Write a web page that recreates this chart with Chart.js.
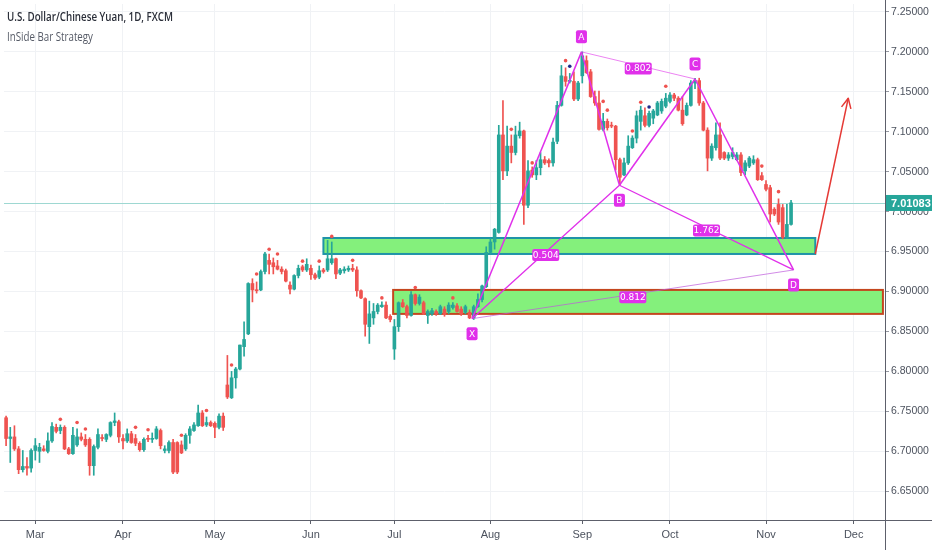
<!DOCTYPE html>
<html><head><meta charset="utf-8">
<script src="https://cdn.jsdelivr.net/npm/chart.js@4.4.1/dist/chart.umd.min.js"></script>
<style>html,body{margin:0;padding:0;background:#fff;overflow:hidden}canvas{display:block}</style>
</head><body>
<canvas id="c" width="932" height="550"></canvas>
<script>
const titleText = 'U.S. Dollar/Chinese Yuan, 1D, FXCM';
const subtitleText = 'InSide Bar Strategy';
const barCount = 211;
const monthLabels = ['Mar','Apr','May','Jun','Jul','Aug','Sep','Oct','Nov','Dec'];
const monthStartIndex = [7,28,50,73,93,116,138,159,182,203];
const yTickValues = [6.65,6.70,6.75,6.80,6.85,6.90,6.95,7.00,7.05,7.10,7.15,7.20,7.25];

const opens = [6.742,6.716,6.718,6.703,6.677,6.681,6.679,6.701,6.700,6.703,6.700,6.713,6.730,6.726,6.730,6.703,6.697,6.708,6.718,6.715,
6.715,6.682,6.705,6.717,6.715,6.720,6.736,6.737,6.716,6.713,6.722,6.716,6.710,6.702,6.716,6.715,6.716,6.726,6.701,6.701,
6.711,6.711,6.708,6.703,6.720,6.726,6.732,6.748,6.733,6.736,6.735,6.730,6.744,6.783,6.767,6.792,6.803,6.831,6.847,6.910,
6.902,6.902,6.925,6.939,6.936,6.932,6.928,6.926,6.908,6.903,6.920,6.931,6.927,6.929,6.921,6.918,6.927,6.927,6.936,6.941,
6.923,6.926,6.927,6.929,6.927,6.901,6.891,6.856,6.867,6.875,6.881,6.883,6.869,6.828,6.856,6.886,6.881,6.870,6.896,6.885,
6.886,6.870,6.872,6.875,6.872,6.878,6.875,6.880,6.882,6.878,6.874,6.874,6.867,6.881,6.890,6.906,6.949,6.962,6.974,7.096,
7.051,7.082,7.074,7.095,7.101,7.008,7.052,7.046,7.055,7.065,7.064,7.061,7.088,7.133,7.169,7.163,7.163,7.141,7.170,7.189,
7.175,7.144,7.136,7.103,7.113,7.108,7.107,7.065,7.046,7.061,7.080,7.092,7.113,7.120,7.108,7.117,7.121,7.126,7.132,7.138,
7.146,7.142,7.127,7.121,7.133,7.161,7.164,7.136,7.102,7.067,7.080,7.096,7.074,7.067,7.069,7.065,7.071,7.051,7.057,7.061,
7.065,7.045,7.034,7.030,7.003,7.009,7.005,6.968,6.984];
const highs = [6.744,6.730,6.732,6.706,6.701,6.692,6.703,6.716,6.710,6.707,6.723,6.736,6.734,6.733,6.732,6.705,6.730,6.728,6.723,6.721,
6.717,6.708,6.728,6.721,6.722,6.737,6.748,6.739,6.721,6.728,6.725,6.721,6.712,6.717,6.720,6.723,6.731,6.728,6.707,6.713,
6.715,6.712,6.713,6.722,6.731,6.736,6.758,6.751,6.743,6.738,6.737,6.747,6.748,6.820,6.800,6.805,6.833,6.862,6.911,6.916,
6.912,6.927,6.949,6.947,6.942,6.939,6.931,6.928,6.912,6.921,6.933,6.933,6.941,6.933,6.923,6.932,6.929,6.964,6.962,6.942,
6.929,6.931,6.932,6.934,6.931,6.902,6.892,6.888,6.885,6.885,6.887,6.887,6.871,6.865,6.887,6.890,6.883,6.900,6.897,6.896,
6.888,6.877,6.879,6.877,6.883,6.881,6.886,6.886,6.885,6.881,6.883,6.877,6.883,6.897,6.908,6.956,6.967,6.979,7.108,7.139,
7.107,7.096,7.107,7.112,7.102,7.064,7.056,7.064,7.074,7.069,7.066,7.092,7.138,7.183,7.180,7.173,7.175,7.163,7.200,7.195,
7.178,7.151,7.151,7.123,7.116,7.112,7.108,7.067,7.067,7.095,7.095,7.126,7.132,7.130,7.126,7.128,7.138,7.141,7.148,7.149,
7.148,7.144,7.144,7.136,7.164,7.167,7.167,7.138,7.105,7.085,7.111,7.111,7.075,7.074,7.080,7.074,7.074,7.064,7.069,7.070,
7.067,7.049,7.039,7.033,7.005,7.016,7.009,7.009,7.014];
const lows = [6.707,6.686,6.701,6.672,6.674,6.670,6.674,6.689,6.686,6.700,6.698,6.711,6.723,6.722,6.702,6.696,6.696,6.706,6.713,6.706,
6.670,6.670,6.703,6.713,6.712,6.718,6.732,6.711,6.703,6.711,6.710,6.707,6.700,6.700,6.712,6.711,6.715,6.703,6.698,6.698,
6.672,6.672,6.697,6.701,6.710,6.725,6.731,6.731,6.731,6.731,6.717,6.728,6.726,6.766,6.766,6.779,6.802,6.819,6.846,6.887,
6.898,6.901,6.922,6.922,6.922,6.927,6.922,6.912,6.897,6.902,6.917,6.925,6.925,6.915,6.915,6.916,6.923,6.925,6.934,6.916,
6.921,6.923,6.925,6.925,6.894,6.891,6.844,6.835,6.859,6.872,6.880,6.866,6.862,6.815,6.850,6.880,6.867,6.869,6.883,6.883,
6.871,6.860,6.870,6.870,6.871,6.869,6.872,6.878,6.874,6.870,6.872,6.866,6.865,6.880,6.887,6.905,6.947,6.953,6.973,7.040,
7.045,7.061,7.071,7.092,6.984,7.005,7.043,7.040,7.046,7.059,7.056,7.057,7.085,7.132,7.157,7.161,7.139,7.139,7.161,7.173,
7.143,7.133,7.102,7.101,7.102,7.105,7.052,7.033,7.045,7.059,7.079,7.086,7.102,7.106,7.106,7.110,7.120,7.123,7.130,7.136,
7.139,7.126,7.108,7.120,7.132,7.154,7.133,7.101,7.051,7.064,7.077,7.065,7.065,7.064,7.066,7.064,7.045,7.046,7.055,7.059,
7.039,7.039,7.026,6.987,6.995,6.984,6.966,6.966,6.983];
const closes = [6.716,6.718,6.703,6.677,6.681,6.679,6.701,6.707,6.705,6.701,6.713,6.731,6.725,6.730,6.703,6.697,6.720,6.718,6.715,6.708,
6.682,6.706,6.721,6.716,6.721,6.736,6.738,6.718,6.713,6.722,6.711,6.710,6.702,6.715,6.715,6.716,6.728,6.707,6.703,6.711,
6.674,6.674,6.698,6.720,6.728,6.733,6.748,6.732,6.736,6.732,6.730,6.744,6.730,6.768,6.792,6.803,6.833,6.840,6.910,6.902,
6.901,6.925,6.947,6.934,6.931,6.928,6.925,6.913,6.903,6.920,6.929,6.927,6.934,6.921,6.917,6.926,6.925,6.941,6.941,6.922,
6.927,6.928,6.929,6.927,6.901,6.892,6.859,6.872,6.875,6.883,6.883,6.867,6.865,6.856,6.886,6.881,6.870,6.896,6.885,6.893,
6.872,6.875,6.876,6.872,6.881,6.871,6.883,6.883,6.875,6.872,6.881,6.867,6.881,6.890,6.907,6.949,6.962,6.978,7.096,7.051,
7.082,7.074,7.096,7.101,7.008,7.051,7.046,7.055,7.065,7.061,7.061,7.087,7.133,7.170,7.163,7.164,7.141,7.161,7.195,7.174,
7.144,7.136,7.103,7.113,7.105,7.107,7.065,7.043,7.061,7.082,7.092,7.120,7.127,7.108,7.123,7.126,7.136,7.138,7.142,7.146,
7.142,7.127,7.110,7.133,7.161,7.164,7.136,7.102,7.067,7.082,7.096,7.067,7.067,7.071,7.074,7.071,7.049,7.061,7.067,7.065,
7.040,7.040,7.028,6.997,6.997,6.987,6.968,6.984,7.011];
const lastPrice = 7.01083;

const dotRedIdx = [13,17,19,31,34,42,48,54,60,63,65,71,75,78,83,90,98,107,121,126,134,143,144,150,152,158,181,185];
const dotRedVal = [6.740,6.736,6.728,6.730,6.727,6.720,6.751,6.808,6.922,6.953,6.947,6.938,6.938,6.969,6.939,6.892,6.905,6.892,7.103,7.061,7.189,7.138,7.127,7.101,7.137,7.157,7.057,7.025];
const dotBlueIdx = [135,154];
const dotBlueVal = [7.182,7.131];

const patternNames = ['X','A','B','C','D'];
const patternIdx = [111.6,137.8,146.9,165.0,188.6];
const patternVal = [6.866,7.200,7.033,7.166,6.927];
const patternAbove = [false,true,false,true,false];
const ratioLabels = ['0.802','0.504','1.762','0.812'];
const ratioPairs = [[1,3],[0,2],[2,4],[0,4]];

const upperZoneIdx = [76.0,193.8];
const upperZoneVal = [6.947,6.967];
const lowerZoneIdx = [92.7,210.0];
const lowerZoneVal = [6.872,6.902];
const arrowIdx = [193.8,201.7];
const arrowVal = [6.947,7.142];

const UP = '#26a69a', DOWN = '#ef5350';
const MAG = '#e030ea';
const labels = Array.from({length: barCount}, (_, i) => i);
const candleColors = opens.map((o, i) => closes[i] >= o ? UP : DOWN);
const wickData = lows.map((l, i) => [l, highs[i]]);
const bodyData = opens.map((o, i) => [o, closes[i]]);
const redDots = dotRedIdx.map((k, j) => ({x: k, y: dotRedVal[j]}));
const blueDots = dotBlueIdx.map((k, j) => ({x: k, y: dotBlueVal[j]}));

function label(ctx, text, cx, cy, w, h, font) {
  ctx.fillStyle = MAG;
  ctx.beginPath();
  ctx.roundRect(cx - w/2, cy - h/2, w, h, 2);
  ctx.fill();
  ctx.fillStyle = '#fff';
  ctx.font = font;
  ctx.textAlign = 'center';
  ctx.textBaseline = 'middle';
  ctx.fillText(text, cx, cy + 0.5);
}

function zone(ctx, xs, ys, idx, val, border) {
  const x1 = xs.getPixelForValue(idx[0]), x2 = xs.getPixelForValue(idx[1]);
  const y1 = ys.getPixelForValue(val[1]), y2 = ys.getPixelForValue(val[0]);
  ctx.fillStyle = '#84f07c';
  ctx.fillRect(x1, y1, x2 - x1, y2 - y1);
  ctx.strokeStyle = border;
  ctx.lineWidth = 2;
  ctx.strokeRect(x1, y1, x2 - x1, y2 - y1);
}

const overlay = {
  id: 'overlay',
  beforeDatasetsDraw(chart) {
    const {ctx, chartArea: a, scales: {x, y}} = chart;
    ctx.save();
    ctx.beginPath(); ctx.rect(a.left, a.top, a.right - a.left, a.bottom - a.top); ctx.clip();
    zone(ctx, x, y, upperZoneIdx, upperZoneVal, '#1f93a8');
    zone(ctx, x, y, lowerZoneIdx, lowerZoneVal, '#c4461e');
    const py = Math.round(y.getPixelForValue(lastPrice)) + 0.5;
    ctx.strokeStyle = '#9ed8d2';
    ctx.lineWidth = 1;
    ctx.beginPath(); ctx.moveTo(a.left, py); ctx.lineTo(a.right, py); ctx.stroke();
    ctx.restore();
  },
  afterDatasetsDraw(chart) {
    const {ctx, chartArea: a, scales: {x, y}} = chart;
    const P = patternIdx.map((v, k) => ({x: x.getPixelForValue(v), y: y.getPixelForValue(patternVal[k])}));
    ctx.save();
    ctx.lineJoin = 'round';
    const seg = (p, q, col, w) => { ctx.strokeStyle = col; ctx.lineWidth = w; ctx.beginPath(); ctx.moveTo(p.x, p.y); ctx.lineTo(q.x, q.y); ctx.stroke(); };
    seg(P[1], P[3], 'rgba(224,48,234,0.6)', 1);
    seg(P[0], P[4], 'rgba(190,90,220,0.7)', 1);
    seg(P[0], P[2], MAG, 1.3);
    seg(P[2], P[4], MAG, 1.3);
    for (let k = 0; k < 4; k++) seg(P[k], P[k + 1], MAG, 1.5);
    ratioPairs.forEach((pr, k) => {
      const mx = (P[pr[0]].x + P[pr[1]].x) / 2, my = (P[pr[0]].y + P[pr[1]].y) / 2 + 3;
      label(ctx, ratioLabels[k], mx, my, 27, 12, '9px "DejaVu Sans"');
    });
    P.forEach((p, k) => {
      label(ctx, patternNames[k], p.x, p.y + (patternAbove[k] ? -15 : 15), 11, 13, '9px "DejaVu Sans"');
    });
    const s = {x: x.getPixelForValue(arrowIdx[0]), y: y.getPixelForValue(arrowVal[0])};
    const e = {x: x.getPixelForValue(arrowIdx[1]), y: y.getPixelForValue(arrowVal[1])};
    ctx.strokeStyle = '#e53935'; ctx.lineWidth = 1.5;
    ctx.beginPath(); ctx.moveTo(s.x, s.y); ctx.lineTo(e.x, e.y); ctx.stroke();
    const ang = Math.atan2(e.y - s.y, e.x - s.x);
    ctx.beginPath();
    ctx.moveTo(e.x - 11 * Math.cos(ang - 0.45), e.y - 11 * Math.sin(ang - 0.45));
    ctx.lineTo(e.x, e.y);
    ctx.lineTo(e.x - 11 * Math.cos(ang + 0.45), e.y - 11 * Math.sin(ang + 0.45));
    ctx.stroke();
    ctx.restore();
  },
  afterDraw(chart) {
    const {ctx, chartArea: a, scales: {y}, width, height} = chart;
    ctx.save();
    ctx.strokeStyle = '#5d606b'; ctx.lineWidth = 1;
    ctx.beginPath();
    ctx.moveTo(0, Math.round(a.bottom) + 0.5); ctx.lineTo(width, Math.round(a.bottom) + 0.5);
    ctx.moveTo(Math.round(a.right) + 0.5, 0); ctx.lineTo(Math.round(a.right) + 0.5, height);
    ctx.stroke();
    const py = y.getPixelForValue(lastPrice);
    ctx.fillStyle = UP;
    ctx.fillRect(a.right + 1, py - 8, width - a.right - 1, 16);
    ctx.fillStyle = '#fff';
    ctx.font = 'bold 11px "Liberation Sans"';
    ctx.textAlign = 'left'; ctx.textBaseline = 'middle';
    ctx.fillText(lastPrice.toFixed(5), a.right + 6, py + 0.5);
    const drawFit = (t, font, color, x0, base, w) => {
      ctx.font = font; ctx.fillStyle = color; ctx.textAlign = 'left'; ctx.textBaseline = 'alphabetic';
      const m = ctx.measureText(t).width;
      ctx.save(); ctx.translate(x0, base); ctx.scale(w / m, 1); ctx.fillText(t, 0, 0); ctx.restore();
    };
    drawFit(titleText, '600 13px "Open Sans"', '#2a2e39', 7, 21, 166);
    drawFit(subtitleText, '12px "Open Sans"', '#555a66', 7, 41, 86);
    ctx.restore();
  }
};

new Chart(document.getElementById('c'), {
  type: 'bar',
  data: {
    labels,
    datasets: [
      {data: wickData, backgroundColor: candleColors, barThickness: 1, grouped: false, order: 3},
      {data: bodyData, backgroundColor: candleColors, barThickness: 3, grouped: false, minBarLength: 1, order: 2},
      {type: 'line', data: redDots, showLine: false, pointRadius: 1.8, pointBorderWidth: 0, pointBackgroundColor: '#ef5350', order: 1},
      {type: 'line', data: blueDots, showLine: false, pointRadius: 1.8, pointBorderWidth: 0, pointBackgroundColor: '#1f2a8a', order: 1}
    ]
  },
  options: {
    responsive: false,
    animation: false,
    layout: {padding: 0},
    plugins: {legend: {display: false}, tooltip: {enabled: false}},
    scales: {
      x: {
        offset: true,
        grid: {offset: false, color: '#f0f2f5', drawTicks: true, tickLength: 4, tickColor: '#5d606b'},
        border: {display: false},
        ticks: {autoSkip: false, maxRotation: 0, padding: 4, color: '#4c525e', font: {size: 11, family: '"Liberation Sans"'},
          callback: (v) => { const k = monthStartIndex.indexOf(v); return k >= 0 ? monthLabels[k] : ''; }},
        afterBuildTicks: (s) => { s.ticks = monthStartIndex.map(v => ({value: v})); },
        afterFit: (s) => { s.height = 30; s.paddingLeft = 0; s.paddingRight = 0; }
      },
      y: {
        position: 'right',
        min: 6.614, max: 7.2599,
        grid: {color: '#f0f2f5', drawTicks: true, tickLength: 4, tickColor: '#9598a1'},
        border: {display: false},
        ticks: {padding: 2, color: '#4c525e', font: {size: 10.5, family: '"Liberation Sans"'}, callback: (v) => Number(v).toFixed(5)},
        afterBuildTicks: (s) => { s.ticks = yTickValues.map(v => ({value: v})); },
        afterFit: (s) => { s.width = 47; s.paddingTop = 0; s.paddingBottom = 0; }
      }
    }
  },
  plugins: [overlay]
});
</script>
</body></html>
